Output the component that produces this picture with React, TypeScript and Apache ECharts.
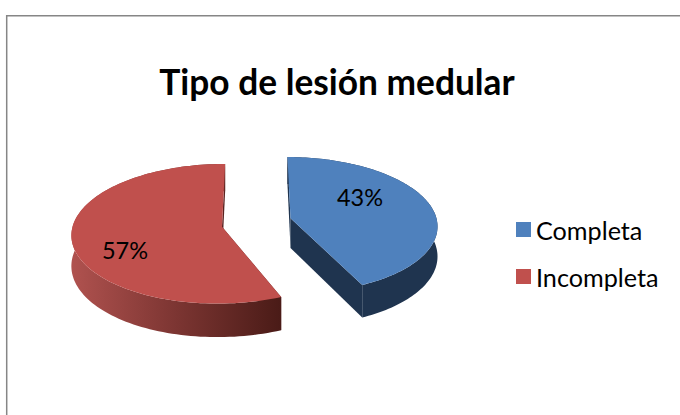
import React, { useEffect, useRef } from "react";
import * as echarts from "echarts";

const categories = ["Completa", "Incompleta"];
const sliceValues = [43, 57];
const titleText = "Tipo de lesión medular";

const topColors = ["#4f81bd", "#c0504d"];
const FONT = "Lato, Carlito, 'Open Sans', sans-serif";

// Projection of the tilted disc
const CX = 256.5, CY = 224, RX = 148, RY = 68.5, K = 0.1, KX = 0.004, DROP = 30;
const EXPLODE = [[0.232, -0.085], [-0.232, 0.04]];
const START_TRIM = [0, 0.047];
const LABEL_POS = [[360, 197], [125, 250]];

const total = sliceValues.reduce((a, b) => a + b, 0);

function project(u: number, v: number, drop = 0): number[] {
  const s = 1 / (1 - K * v + KX * u);
  return [CX + RX * u * s, CY + (RY * v + drop) * s];
}

function makeRenderItem(index: number) {
  return (_params: any, api: any) => {
    const value = api.value(0);
    const before = sliceValues.slice(0, index).reduce((a, b) => a + b, 0);
    const a0 = (before / total) * Math.PI * 2 + START_TRIM[index];
    const a1 = ((before + value) / total) * Math.PI * 2;
    const [ox, oy] = EXPLODE[index];
    const n = 120;
    const arc: number[][] = [];
    for (let i = 0; i <= n; i++) {
      const a = a0 + ((a1 - a0) * i) / n;
      arc.push([ox + Math.sin(a), oy - Math.cos(a)]);
    }
    const top = [project(ox, oy), ...arc.map((p) => project(p[0], p[1]))];
    const wallTop = arc.map((p) => project(p[0], p[1]));
    const wallBottom = arc.map((p) => project(p[0], p[1], DROP)).reverse();
    const radial = (p: number[]) => [
      project(ox, oy),
      project(p[0], p[1]),
      project(p[0], p[1], DROP),
      project(ox, oy, DROP),
    ];
    const darkFlat = index === 0 ? "#1f344f" : "#5a2220";
    const wallFill =
      index === 0
        ? "#1f344f"
        : new echarts.graphic.LinearGradient(0, 0, 1, 0, [
            { offset: 0, color: "#b0524f" },
            { offset: 0.5, color: "#7c3532" },
            { offset: 1, color: "#4a1b17" },
          ]);
    return {
      type: "group",
      children: [
        { type: "polygon", shape: { points: radial(arc[0]) }, style: { fill: darkFlat } },
        { type: "polygon", shape: { points: radial(arc[n]) }, style: { fill: darkFlat } },
        { type: "polygon", shape: { points: [...wallTop, ...wallBottom] }, style: { fill: wallFill } },
        { type: "polygon", shape: { points: top }, style: { fill: topColors[index] } },
        {
          type: "text",
          x: LABEL_POS[index][0],
          y: LABEL_POS[index][1],
          style: {
            text: `${value}%`,
            fill: "#000000",
            font: `23.5px ${FONT}`,
            align: "center",
            verticalAlign: "middle",
          },
        },
      ],
    };
  };
}

export default function App() {
  const ref = useRef<HTMLDivElement>(null);
  useEffect(() => {
    const chart = echarts.init(ref.current!, undefined, { renderer: "svg" });
    chart.setOption({
      animation: false,
      backgroundColor: "#ffffff",
      title: {
        text: titleText,
        left: 337,
        top: 64,
        padding: 0,
        textAlign: "center",
        textStyle: { fontFamily: FONT, fontSize: 35.3, fontWeight: "bold", color: "#000000" },
      },
      legend: {
        data: categories,
        orient: "vertical",
        left: 516,
        top: 217,
        padding: 0,
        itemWidth: 15,
        itemHeight: 15,
        itemGap: 22,
        icon: "rect",
        textStyle: { fontFamily: FONT, fontSize: 25.2, color: "#000000" },
      },
      graphic: [
        {
          type: "rect",
          shape: { x: 6.7, y: 15.8, width: 800, height: 600 },
          style: { fill: "none", stroke: "#868686", lineWidth: 1.5 },
          silent: true,
        },
      ],
      series: categories.map((name, i) => ({
        type: "custom",
        name,
        coordinateSystem: "none",
        color: topColors[i],
        itemStyle: { color: topColors[i] },
        data: [[sliceValues[i]]],
        renderItem: makeRenderItem(i),
      })),
    });
    return () => chart.dispose();
  }, []);
  return <div ref={ref} style={{ position: "absolute", left: 0, top: 0, width: 680, height: 415 }} />;
}
